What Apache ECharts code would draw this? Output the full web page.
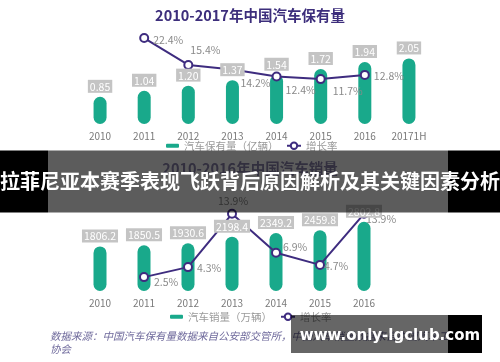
<!DOCTYPE html>
<html><head><meta charset="utf-8">
<script src="https://cdn.jsdelivr.net/npm/echarts@6/dist/echarts.min.js"></script>
<style>html,body{margin:0;padding:0;background:#fff}#c{width:500px;height:362px}</style>
</head><body><div id="c"></div>
<script>
// ---- data ----
const stockYears = ['2010','2011','2012','2013','2014','2015','2016','20171H'];
const stockValues = [0.85, 1.04, 1.20, 1.37, 1.54, 1.72, 1.94, 2.05];
const stockGrowth = [null, 22.4, 15.4, 14.2, 12.4, 11.7, 12.8, null];
const salesYears = ['2010','2011','2012','2013','2014','2015','2016'];
const salesValues = [1806.2, 1850.5, 1930.6, 2198.4, 2349.2, 2459.8, 2802.8];
const salesGrowth = [null, 2.5, 4.3, 13.9, 6.9, 4.7, 13.9];
const title1 = '2010-2017年中国汽车保有量';
const title2 = '2010-2016年中国汽车销量';
const stockName = '汽车保有量（亿辆）';
const salesName = '汽车销量（万辆）';
const growthName = '增长率';
const sourceText = '数据来源：中国汽车保有量数据来自公安部交管所，中国汽车销量数据来自中国汽车工业\n协会';
const bannerText = '拉菲尼亚本赛季表现飞跃背后原因解析及其关键因素分析';
const siteText = 'www.only-lgclub.com';

// ---- styling (label offsets per point) ----
const stockGrowthOffsets = [null, [-1,2], [-8,-15], [-2,13], [-1,14], [2,12], [-1,1], null];
const salesGrowthOffsets = [null, [0,5], [-1,1], [-24,-13], [-3,-6], [-6,1], [-8,5]];

const TEAL = '#19a98b', PURPLE = '#3e2c7f';
const FONT = '"Noto Sans CJK SC", sans-serif';

function growthData(vals, offs) {
  return vals.map((v, i) => v == null ? null : {
    value: v,
    label: { offset: offs[i] }
  });
}
function barSeries(name, data, xi, yi) {
  return {
    type: 'bar', name, data, xAxisIndex: xi, yAxisIndex: yi, barWidth: 13, barGap: '-100%', z: 2,
    itemStyle: { color: TEAL, borderRadius: 6.5 }
  };
}
// transparent twin bars that only carry the value tags (drawn above the line)
function barLabelSeries(name, data, xi, yi, digits) {
  return {
    type: 'bar', name, data, xAxisIndex: xi, yAxisIndex: yi, barWidth: 13, barGap: '-100%', z: 10,
    silent: true,
    itemStyle: { color: 'rgba(0,0,0,0)' },
    label: {
      show: true, position: 'top', distance: 4, color: '#fff', backgroundColor: '#c4c4c4',
      padding: [1, 2, 0, 2], fontSize: 10.5, fontFamily: FONT, lineHeight: 12,
      formatter: p => Number(p.value).toFixed(digits)
    }
  };
}
function lineSeries(data, xi, yi) {
  return {
    type: 'line', name: growthName, data, xAxisIndex: xi, yAxisIndex: yi, z: 4, clip: false,
    symbol: 'emptyCircle', symbolSize: 8, connectNulls: false,
    lineStyle: { color: PURPLE, width: 2 },
    itemStyle: { color: PURPLE, borderColor: PURPLE, borderWidth: 2 },
    label: {
      show: true, position: 'right', distance: 5, color: '#8a8a8a', fontSize: 10.5, fontFamily: FONT,
      formatter: p => Number(p.value).toFixed(1) + '%'
    }
  };
}
const xAxisCommon = {
  type: 'category', axisLine: { show: false }, axisTick: { show: false },
  axisLabel: { color: '#7a7a7a', fontSize: 10, margin: 7, fontFamily: FONT, interval: 0 }
};
const legendText = { color: '#9a9a9a', fontSize: 10.5, fontFamily: FONT };

const chart = echarts.init(document.getElementById('c'), null, { renderer: 'canvas' });
chart.setOption({
  backgroundColor: '#fff',
  animation: false,
  textStyle: { fontFamily: FONT },
  title: [
    { text: title1, left: 'center', top: 8, padding: 0,
      textStyle: { color: '#3d2e7c', fontSize: 14.5, fontWeight: 'bold', fontFamily: FONT } },
    { text: title2, left: 'center', top: 161, padding: 0,
      textStyle: { color: '#8a84ad', fontSize: 14.5, fontWeight: 'bold', fontFamily: FONT } }
  ],
  legend: [
    { data: [{ name: stockName, icon: 'roundRect' }], left: 166, top: 140.5, padding: 0,
      itemWidth: 13, itemHeight: 4, textStyle: legendText, selectedMode: false },
    { data: [{ name: growthName }], left: 286, top: 140.5, padding: 0,
      itemWidth: 14, itemHeight: 8, textStyle: legendText, selectedMode: false },
    { data: [{ name: salesName, icon: 'roundRect' }], left: 170, top: 311.5, padding: 0,
      itemWidth: 13, itemHeight: 4, textStyle: legendText, selectedMode: false },
    { data: [{ name: growthName }], left: 280, top: 311.5, padding: 0,
      itemWidth: 14, itemHeight: 8, textStyle: legendText, selectedMode: false }
  ],
  grid: [
    { left: 78, width: 353, top: 30, height: 94 },
    { left: 78, width: 308, top: 191, height: 100 }
  ],
  xAxis: [
    Object.assign({ gridIndex: 0, data: stockYears }, xAxisCommon),
    Object.assign({ gridIndex: 1, data: salesYears }, xAxisCommon)
  ],
  yAxis: [
    { gridIndex: 0, type: 'value', min: 0, max: 2.94, show: false },
    { gridIndex: 0, type: 'value', min: 0, max: 24.5, show: false },
    { gridIndex: 1, type: 'value', min: 0, max: 4050, show: false },
    { gridIndex: 1, type: 'value', min: 0, max: 18, show: false }
  ],
  series: [
    barSeries(stockName, stockValues, 0, 0),
    barLabelSeries('stockTags', stockValues, 0, 0, 2),
    lineSeries(growthData(stockGrowth, stockGrowthOffsets), 0, 1),
    barSeries(salesName, salesValues, 1, 2),
    barLabelSeries('salesTags', salesValues, 1, 2, 1),
    lineSeries(growthData(salesGrowth, salesGrowthOffsets), 1, 3)
  ],
  graphic: [
    { type: 'text', left: 50, top: 330, z: 50,
      style: { text: sourceText, fill: '#6f6a9c', font: 'italic 10.5px ' + FONT, lineHeight: 13 } },
    // banner
    { type: 'rect', z: 100, shape: { x: 0, y: 150.5, width: 48, height: 62 }, style: { fill: '#000' } },
    { type: 'rect', z: 100, shape: { x: 448, y: 150.5, width: 52, height: 62 }, style: { fill: '#000' } },
    { type: 'rect', z: 100, shape: { x: 48, y: 150.5, width: 400, height: 62 }, style: { fill: 'rgba(0,0,0,0.64)' } },
    { type: 'text', z: 101, x: 250, y: 181,
      style: { text: bannerText, fill: '#fff', font: 'bold 20px ' + FONT, align: 'center', verticalAlign: 'middle' } },
    // site watermark
    { type: 'rect', z: 100, shape: { x: 291, y: 315, width: 157, height: 38 }, style: { fill: 'rgba(0,0,0,0.6)' } },
    { type: 'rect', z: 100, shape: { x: 448, y: 315, width: 34, height: 38 }, style: { fill: '#000' } },
    { type: 'text', z: 101, x: 390, y: 336.5,
      style: { text: siteText, fill: '#fff', font: 'bold 15px "DejaVu Sans", sans-serif', align: 'center', verticalAlign: 'middle' } }
  ]
});
</script></body></html>
